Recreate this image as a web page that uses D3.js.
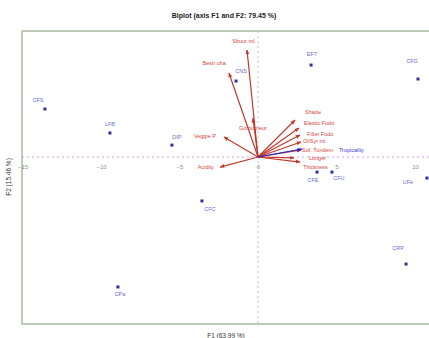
<!DOCTYPE html>
<html>
<head>
<meta charset="utf-8">
<script src="https://cdn.jsdelivr.net/npm/d3@7"></script>
<style>
  html, body { margin: 0; padding: 0; background: #fff; }
  svg { display: block; font-family: "Liberation Sans", Arial, sans-serif; }
</style>
</head>
<body>
<svg id="chart" width="429" height="338"></svg>
<script>
// Observations (factor scores on F1 / F2)
const obsNames = ["CFS", "LFB", "DIP", "CNS", "EFT", "CFG", "CFC", "CPa", "CRP", "CFE", "CFU", "UFe"];
const obsF1 = [-13.57, -9.43, -5.48, -1.40, 3.38, 10.19, -3.57, -8.92, 9.43, 3.76, 4.71, 10.76];
const obsF2 = [3.06, 1.53, 0.76, 4.84, 5.86, 4.97, -2.80, -8.28, -6.82, -0.96, -0.96, -1.34];

// Active variables (loadings scaled for the biplot)
const varNames = ["Sbuur ml.", "Bestr uha", "Gorbomeur", "Veggie P", "Acidity", "Shade",
                  "Elastic Fudo", "Filter Fudo", "OilSyr ml.", "Sof. Tundem", "Longer", "Thickness"];
const varF1 = [-0.70, -1.85, -0.32, -2.17, -2.42, 2.36, 2.61, 2.68, 2.74, 2.74, 2.29, 2.68];
const varF2 = [6.82, 5.35, 2.48, 1.27, -0.64, 2.36, 1.85, 1.40, 0.96, 0.45, -0.06, -0.32];

// Supplementary variable
const suppNames = ["Tropicality"];
const suppF1 = [2.80];
const suppF2 = [0.51];

// Axis ticks and titles
const xTicks = [-15, -10, -5, 0, 5, 10];
const chartTitle = "Biplot (axis F1 and F2: 79.45 %)";
const xTitle = "F1 (63.99 %)";
const yTitle = "F2 (15.46 %)";

// Label placement (pixel offsets from the mark, text anchor)
const obsLabelPos = [[-7,-8,"middle"],[0,-8,"middle"],[5,-8,"middle"],[5,-10,"middle"],[1,-11,"middle"],
                     [-6,-17,"middle"],[8,9,"middle"],[2,8,"middle"],[-8,-16,"middle"],[-4,8,"middle"],
                     [7,6,"middle"],[-19,4,"middle"]];
const varLabelPos = [[-3,-8,"middle"],[-3,-10,"end"],[0,10,"middle"],[-8,-1,"end"],[-6,0,"end"],
                     [10,-7,"start"],[5,-4,"start"],[7,-1,"start"],[2,0,"start"],[1,1,"start"],
                     [15,1,"start"],[3,6,"start"]];
const suppLabelPos = [[37,2,"start"]];

const svg = d3.select("#chart");
const plot = { left: 22, right: 434, top: 31, bottom: 324 };

const x = d3.scaleLinear().domain([-15.03, 11.21]).range([plot.left, plot.right]);
const y = d3.scaleLinear().domain([-10.64, 8.03]).range([plot.bottom, plot.top]);

// Title
svg.append("text")
  .attr("x", 224).attr("y", 18)
  .attr("text-anchor", "middle")
  .attr("font-size", 7).attr("font-weight", "bold").attr("fill", "#222")
  .text(chartTitle);

// Frame
svg.append("rect")
  .attr("x", plot.left).attr("y", plot.top)
  .attr("width", plot.right - plot.left).attr("height", plot.bottom - plot.top)
  .attr("fill", "none").attr("stroke", "#aebfa8").attr("stroke-width", 1.6);

// Zero lines
svg.append("line")
  .attr("x1", plot.left).attr("x2", plot.right)
  .attr("y1", y(0)).attr("y2", y(0))
  .attr("stroke", "#d79be6").attr("stroke-width", 1).attr("stroke-dasharray", "2,3");
svg.append("line")
  .attr("x1", x(0)).attr("x2", x(0))
  .attr("y1", plot.top).attr("y2", plot.bottom)
  .attr("stroke", "#c8b8e8").attr("stroke-width", 1).attr("stroke-dasharray", "2,3");

// X tick labels along the zero line
const xAxis = d3.axisBottom(x).tickValues(xTicks).tickSize(0).tickPadding(8)
  .tickFormat(d3.format("d"));
const gx = svg.append("g").attr("transform", `translate(0,${y(0)})`).call(xAxis);
gx.select(".domain").remove();
gx.selectAll("text").attr("font-size", 6).attr("fill", "#7d977a")
  .attr("font-family", "Liberation Sans, Arial, sans-serif");

// Axis titles
svg.append("text")
  .attr("x", 226).attr("y", 338)
  .attr("text-anchor", "middle").attr("font-size", 6.5).attr("fill", "#333")
  .text(xTitle);
svg.append("text")
  .attr("transform", "translate(11,177) rotate(-90)")
  .attr("text-anchor", "middle").attr("font-size", 6.5).attr("fill", "#333")
  .text(yTitle);

// Arrowheads
const defs = svg.append("defs");
function marker(id, color) {
  defs.append("marker")
    .attr("id", id).attr("viewBox", "0 0 10 10")
    .attr("refX", 9).attr("refY", 5)
    .attr("markerWidth", 4).attr("markerHeight", 4)
    .attr("orient", "auto")
    .append("path").attr("d", "M0,1 L10,5 L0,9 z").attr("fill", color);
}
marker("arrRed", "#c0392b");
marker("arrBlue", "#2424c8");

// Variable vectors
const vars = varNames.map((n, i) => ({ n, f1: varF1[i], f2: varF2[i], pos: varLabelPos[i] }));
svg.append("g").selectAll("line").data(vars).join("line")
  .attr("x1", x(0)).attr("y1", y(0))
  .attr("x2", d => x(d.f1)).attr("y2", d => y(d.f2))
  .attr("stroke", "#c0392b").attr("stroke-width", 1.2)
  .attr("marker-end", "url(#arrRed)");
svg.append("g").selectAll("text").data(vars).join("text")
  .attr("x", d => x(d.f1) + d.pos[0]).attr("y", d => y(d.f2) + d.pos[1])
  .attr("text-anchor", d => d.pos[2]).attr("dominant-baseline", "middle")
  .attr("font-size", 5.5).attr("fill", "#d2473d")
  .text(d => d.n);

// Supplementary vector
const supp = suppNames.map((n, i) => ({ n, f1: suppF1[i], f2: suppF2[i], pos: suppLabelPos[i] }));
svg.append("g").selectAll("line").data(supp).join("line")
  .attr("x1", x(0)).attr("y1", y(0))
  .attr("x2", d => x(d.f1)).attr("y2", d => y(d.f2))
  .attr("stroke", "#2424c8").attr("stroke-width", 1.2)
  .attr("marker-end", "url(#arrBlue)");
svg.append("g").selectAll("text").data(supp).join("text")
  .attr("x", d => x(d.f1) + d.pos[0]).attr("y", d => y(d.f2) + d.pos[1])
  .attr("text-anchor", d => d.pos[2]).attr("dominant-baseline", "middle")
  .attr("font-size", 5.5).attr("fill", "#3a3ad8")
  .text(d => d.n);

// Observations
const obs = obsNames.map((n, i) => ({ n, f1: obsF1[i], f2: obsF2[i], pos: obsLabelPos[i] }));
svg.append("g").selectAll("rect").data(obs).join("rect")
  .attr("x", d => x(d.f1) - 1.5).attr("y", d => y(d.f2) - 1.5)
  .attr("width", 3).attr("height", 3)
  .attr("fill", "#2f2fa0");
svg.append("g").selectAll("text").data(obs).join("text")
  .attr("x", d => x(d.f1) + d.pos[0]).attr("y", d => y(d.f2) + d.pos[1])
  .attr("text-anchor", d => d.pos[2]).attr("dominant-baseline", "middle")
  .attr("font-size", 5.5).attr("fill", "#6b6bd0")
  .text(d => d.n);
</script>
</body>
</html>
